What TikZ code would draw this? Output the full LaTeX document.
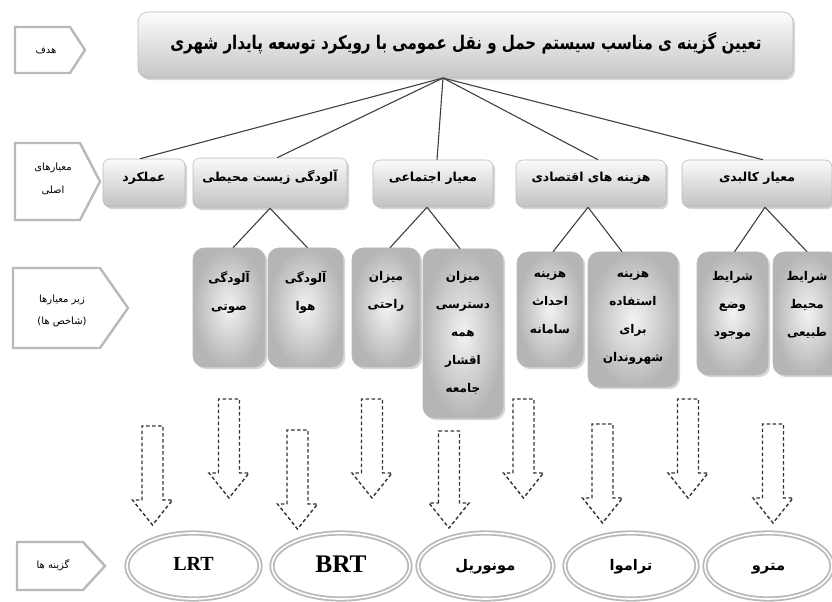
\documentclass[tikz,border=0pt]{standalone}
\usepackage{fontspec}
\setmainfont{Liberation Serif}
\newfontfamily\fa[Script=Arabic]{DejaVu Sans}
\TeXXeTstate=1
\usetikzlibrary{shapes.geometric,shadows,fit,calc}
\newdimen\pxu \pxu=0.75pt
\newcommand\RL[1]{\beginR #1\endR}
\begin{document}
\begin{tikzpicture}[x=0.75pt,y=-0.75pt,
  conn/.style={draw=black!75,line width=1.1\pxu},
  shad/.style={drop shadow={shadow xshift=1.6pt,shadow yshift=-1.6pt,fill=gray!70,opacity=0.45}},
  crit/.style={shad,rounded corners=7\pxu,draw=gray!55,top color=gray!4,bottom color=gray!48,inner sep=0pt,
    font=\fa\bfseries\fontsize{9.3}{11}\selectfont,text height=6pt,text depth=0pt},
  subb/.style={shad,rounded corners=11\pxu,draw=gray!55,inner color=gray!10,outer color=gray!58,inner sep=0pt},
  subt/.style={font=\fa\bfseries\fontsize{9}{21}\selectfont,align=center,anchor=north,inner sep=0pt},
  pent/.style={draw=gray!55,line width=2.4\pxu,fill=white,line join=miter},
  pentt/.style={font=\fa\fontsize{7.5}{17}\selectfont,align=center,inner sep=0pt},
  ell/.style={ellipse,draw=gray!55,line width=1.8\pxu,double=white,double distance=1.6\pxu,inner sep=0pt,
    minimum height=66\pxu,text height=8pt,text depth=1pt},
  darr/.style={draw=black!80,line width=1.4\pxu,dash pattern=on 3.5\pxu off 2.5\pxu,line join=miter}
]
\useasboundingbox[fill=white] (0,0) rectangle (832,602);

% left labels (pentagons)
\draw[pent] (15,27) -- (70,27) -- (85,50) -- (70,73) -- (15,73) -- cycle;
\node[pentt] (lgoal) at (46,51) {\RL{هدف}};
\draw[pent] (15,143) -- (80,143) -- (100,181.5) -- (80,220) -- (15,220) -- cycle;
\node[pentt] (lmain) at (53,179) {\RL{معیارهای}\\\RL{اصلی}};
\draw[pent] (13,268) -- (100,268) -- (128,308) -- (100,348) -- (13,348) -- cycle;
\node[pentt] (lsub) at (62,311) {\RL{زیر معیارها}\\)\RL{شاخص ها}(};
\draw[pent] (17,542) -- (83,542) -- (105,566) -- (83,590) -- (17,590) -- cycle;
\node[pentt] (lopt) at (53,565) {\RL{گزینه ها}};

% title
\node[crit,rounded corners=10\pxu,top color=gray!2,bottom color=gray!45,fit={(138,12)(793,78)}] (title) {};
\node[font=\fa\bfseries\fontsize{11.3}{14}\selectfont,inner sep=0pt] (ttext) at (466,43)
  {\scalebox{1}[1.25]{\RL{تعیین گزینه ی مناسب سیستم حمل و نقل عمومی با رویکرد توسعه پایدار شهری}}};
\coordinate (root) at (443,78);

% criteria
\node[crit,fit={(103,159)(185,207)}] (c1) {\RL{عملکرد}};
\node[crit,fit={(193,158)(347,208)}] (c2) {\RL{آلودگی زیست محیطی}};
\node[crit,fit={(373,160)(493,207)}] (c3) {\RL{معیار اجتماعی}};
\node[crit,fit={(516,160)(666,207)}] (c4) {\RL{هزینه های اقتصادی}};
\node[crit,fit={(682,160)(832,207)}] (c5) {\RL{معیار کالبدی}};

\draw[conn] (root) -- ([xshift=-4\pxu]c1.north);
\draw[conn] (root) -- ([xshift=7\pxu]c2.north);
\draw[conn] (root) -- ([xshift=4\pxu]c3.north);
\draw[conn] (root) -- ([xshift=7\pxu]c4.north);
\draw[conn] (root) -- ([xshift=6\pxu]c5.north);

% sub-criteria
\node[subb,fit={(193,248)(265,367)}] (s1) {};
\node[subb,fit={(268,248)(343,367)}] (s2) {};
\node[subb,fit={(352,248)(420,367)}] (s3) {};
\node[subb,fit={(423,249)(503,418)}] (s4) {};
\node[subb,fit={(517,252)(583,367)}] (s5) {};
\node[subb,fit={(588,252)(678,387)}] (s6) {};
\node[subb,fit={(697,252)(768,375)}] (s7) {};
\node[subb,fit={(773,252)(841,375)}] (s8) {};

\node[subt] (t1) at (229,271) {\RL{آلودگی}\\\RL{صوتی}};
\node[subt] (t2) at (305.5,271) {\RL{آلودگی}\\\RL{هوا}};
\node[subt] (t3) at (386,271) {\RL{میزان}\\\RL{راحتی}};
\node[subt] (t4) at (463,271) {\RL{میزان}\\\RL{دسترسی}\\\RL{همه}\\\RL{اقشار}\\\RL{جامعه}};
\node[subt] (t5) at (550,271) {\RL{هزینه}\\\RL{احداث}\\\RL{سامانه}};
\node[subt] (t6) at (633,271) {\RL{هزینه}\\\RL{استفاده}\\\RL{برای}\\\RL{شهروندان}};
\node[subt] (t7) at (732.5,271) {\RL{شرایط}\\\RL{وضع}\\\RL{موجود}};
\node[subt] (t8) at (807,271) {\RL{شرایط}\\\RL{محیط}\\\RL{طبیعی}};

\draw[conn] (c2.south) -- ([xshift=4\pxu]s1.north);
\draw[conn] (c2.south) -- ([xshift=2\pxu]s2.north);
\draw[conn] ([xshift=-6\pxu]c3.south) -- ([xshift=4\pxu]s3.north);
\draw[conn] ([xshift=-6\pxu]c3.south) -- ([xshift=-3\pxu]s4.north);
\draw[conn] ([xshift=-3\pxu]c4.south) -- ([xshift=3\pxu]s5.north);
\draw[conn] ([xshift=-3\pxu]c4.south) -- ([xshift=-11\pxu]s6.north);
\draw[conn] ([xshift=8\pxu]c5.south) -- ([xshift=2\pxu]s7.north);
\draw[conn] ([xshift=8\pxu]c5.south) -- (s8.north);

% dashed block arrows
\foreach \xc/\yt/\yh/\yb in {152.5/426/500/525, 229/399/473/498, 297.5/430/504/529,
  372/399/473/498, 449/431/503/528, 523.5/399/473/498, 602.5/424/498/523,
  688/399/473/498, 773/424/498/523}{
  \draw[darr] (\xc-10.5,\yh) -- (\xc-10.5,\yt) -- (\xc+10.5,\yt) -- (\xc+10.5,\yh)
    -- (\xc+20,\yh) -- (\xc,\yb) -- (\xc-20,\yh) -- cycle;
}

% options
\node[ell,minimum width=133\pxu,font=\bfseries\fontsize{15}{17}\selectfont] (e1) at (193.5,566) {LRT};
\node[ell,minimum width=138\pxu,font=\bfseries\fontsize{19}{21}\selectfont,text height=11pt] (e2) at (341,566) {BRT};
\node[ell,minimum width=135\pxu,font=\fa\bfseries\fontsize{11}{13}\selectfont] (e3) at (485.5,566) {\RL{مونوریل}};
\node[ell,minimum width=132\pxu,font=\fa\bfseries\fontsize{11}{13}\selectfont] (e4) at (631,566) {\RL{تراموا}};
\node[ell,minimum width=127\pxu,font=\fa\bfseries\fontsize{11}{13}\selectfont] (e5) at (768.5,566) {\RL{مترو}};
\end{tikzpicture}
\end{document}
